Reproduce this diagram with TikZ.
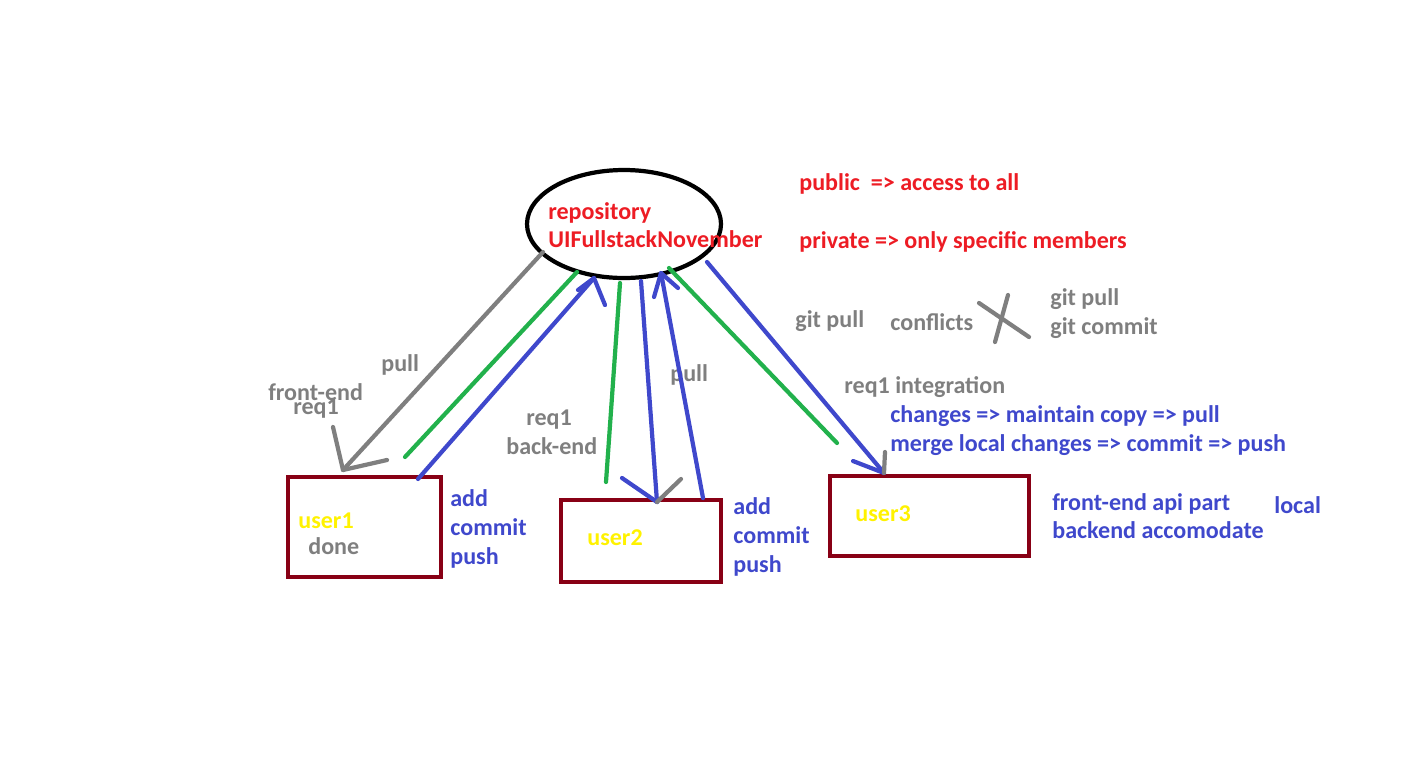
\documentclass[tikz,border=0pt]{standalone}
\usepackage{fontspec}
\setmainfont{Carlito}
\definecolor{pgray}{HTML}{7F7F7F}
\definecolor{pgreen}{HTML}{22B14C}
\definecolor{pblue}{HTML}{3F48CC}
\definecolor{pdred}{HTML}{880015}
\definecolor{pred}{HTML}{ED1C24}
\definecolor{pyellow}{HTML}{FFF200}
\begin{document}
\begin{tikzpicture}[x=0.02cm,y=-0.02cm,
  txt/.style={anchor=base west,inner sep=0pt,font=\fontsize{13.7}{15}\selectfont\bfseries},
  gtxt/.style={txt,text=pgray},
  btxt/.style={txt,text=pblue},
  rtxt/.style={txt,text=pred},
  ytxt/.style={txt,text=pyellow},
  userbox/.style={draw=pdred,line width=2.8pt,inner sep=0pt},
  stroke/.style={line width=2.4pt,line cap=round,line join=round},
  gline/.style={stroke,draw=pgray},
  grline/.style={stroke,draw=pgreen},
  bline/.style={stroke,draw=pblue}]
\useasboundingbox (0,0) rectangle (1412,765);
% repository
\draw[line width=2.4pt] (624,224) ellipse [x radius=97, y radius=54];
\node (repo) at (624,224) {};
\node[rtxt] (t-repo1) at (548,219) {repository};
\node[rtxt] (t-repo2) at (548,247) {UIFullstackNovember};
\node[rtxt] (t-pub) at (799,190) {public\ \ => access to all};
\node[rtxt] (t-priv) at (799,248) {private => only specific members};
% user boxes
\draw[userbox] (288,477) rectangle (441,577);
\draw[userbox] (561,500) rectangle (721,582);
\draw[userbox] (830,476) rectangle (1029,556);
\node (u1) at (364,527) {};
\node (u2) at (641,541) {};
\node (u3) at (929,516) {};
\node[ytxt] (t-u1) at (298,528) {user1};
\node[gtxt] (t-done) at (308,554) {done};
\node[ytxt] (t-u2) at (587,545) {user2};
\node[ytxt] (t-u3) at (855,521) {user3};
% side texts
\node[btxt] (a1) at (450,506) {add};
\node[btxt] (c1) at (450,535) {commit};
\node[btxt] (p1) at (450,564) {push};
\node[btxt] (a2) at (733,514) {add};
\node[btxt] (c2) at (733,543) {commit};
\node[btxt] (p2) at (733,572) {push};
\node[btxt] (fe) at (1052,510) {front-end api part};
\node[btxt] (be) at (1052,538) {backend accomodate};
\node[btxt] (loc) at (1274,513) {local};
\node[gtxt] (t-pull1) at (381,371) {pull};
\node[gtxt] (t-fe) at (268,400) {front-end};
\node[gtxt] (t-req1a) at (293,414) {req1};
\node[gtxt] (t-req1b) at (526,425) {req1};
\node[gtxt] (t-be) at (506,454) {back-end};
\node[gtxt] (t-pull2) at (670,381) {pull};
\node[gtxt] (t-gp) at (795,327) {git pull};
\node[gtxt] (t-conf) at (890,330) {conflicts};
\node[gtxt] (t-gp2) at (1050,305) {git pull};
\node[gtxt] (t-gc) at (1050,334) {git commit};
\node[gtxt] (t-ri) at (844,393) {req1 integration};
\node[btxt] (t-ch) at (890,422) {changes => maintain copy => pull};
\node[btxt] (t-mg) at (890,451) {merge local changes => commit => push};
% coordinates
\coordinate (g1s) at (543,252); \coordinate (g1e) at (343,470);
\coordinate (g1a) at (333,427); \coordinate (g1b) at (387,460);
\coordinate (gr1s) at (577,272); \coordinate (gr1e) at (405,457);
\coordinate (b1s) at (418,479); \coordinate (b1e) at (594,278);
\coordinate (b1a) at (578,290); \coordinate (b1b) at (605,305);
\coordinate (gr2s) at (620,283); \coordinate (gr2e) at (606,482);
\coordinate (b2s) at (641,281); \coordinate (b2e) at (657,502);
\coordinate (b2a) at (622,478); \coordinate (b2g) at (681,479);
\coordinate (b3s) at (703,498); \coordinate (b3e) at (661,273);
\coordinate (b3a) at (654,297); \coordinate (b3b) at (678,288);
\coordinate (gr3s) at (669,268); \coordinate (gr3e) at (837,443);
\coordinate (b4s) at (707,262); \coordinate (b4e) at (884,473);
\coordinate (b4a) at (853,461); \coordinate (b4g) at (885,452);
\coordinate (x1s) at (1008,295); \coordinate (x1e) at (995,342);
\coordinate (x2s) at (979,303); \coordinate (x2e) at (1029,337);
% connectors
\draw[gline] (g1s) -- (g1e);
\draw[gline] (g1a) -- (g1e) -- (g1b);
\draw[grline] (gr1s) -- (gr1e);
\draw[bline] (b1s) -- (b1e);
\draw[bline] (b1a) -- (b1e) -- (b1b);
\draw[grline] (gr2s) -- (gr2e);
\draw[bline] (b2s) -- (b2e);
\draw[bline] (b2a) -- (b2e);
\draw[gline] (b2e) -- (b2g);
\draw[bline] (b3s) -- (b3e);
\draw[bline] (b3a) -- (b3e) -- (b3b);
\draw[grline] (gr3s) -- (gr3e);
\draw[bline] (b4s) -- (b4e);
\draw[bline] (b4a) -- (b4e);
\draw[gline] (b4e) -- (b4g);
\draw[gline] (x1s) -- (x1e);
\draw[gline] (x2s) -- (x2e);
\end{tikzpicture}
\end{document}
